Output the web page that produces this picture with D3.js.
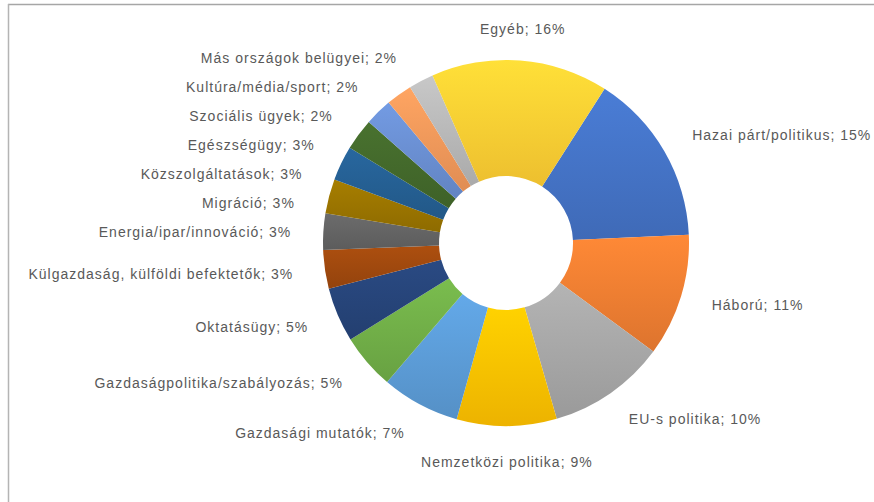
<!DOCTYPE html>
<html>
<head>
<meta charset="utf-8">
<style>
  body { margin: 0; background: #fff; }
  svg { display: block; }
</style>
</head>
<body>
<div id="chartContainer"></div>
<script src="https://cdnjs.cloudflare.com/ajax/libs/d3/7.8.5/d3.min.js"></script>
<script>
// topics, clockwise from the blue slice
var topics = ["Hazai párt/politikus", "Háború", "EU-s politika", "Nemzetközi politika",
  "Gazdasági mutatók", "Gazdaságpolitika/szabályozás", "Oktatásügy",
  "Külgazdaság, külföldi befektetők", "Energia/ipar/innováció", "Migráció",
  "Közszolgáltatások", "Egészségügy", "Szociális ügyek", "Kultúra/média/sport",
  "Más országok belügyei", "Egyéb"];
// shares in percent
var shares = [15.2, 10.8, 10.4, 8.8, 6.9, 4.9, 4.8, 3.4, 3.2, 3.05, 3.05, 2.8, 2.4, 2.3, 2.2, 15.6];
// the percent shown in the labels
var shownPct = [15, 11, 10, 9, 7, 5, 5, 3, 3, 3, 3, 3, 2, 2, 2, 16];
var colors = ["#4472C4", "#ED7D31", "#A5A5A5", "#FFC000", "#5B9BD5", "#70AD47",
  "#264478", "#9E480E", "#636363", "#997300", "#255E91", "#43682B",
  "#698ED0", "#F1975A", "#B7B7B7", "#FFCD33"];

var W = 874, H = 502;
var cx = 506, cy = 243, outerR = 183, innerR = 67, labelR = 215;
var startDeg = 32.6;

var data = topics.map(function (t, i) {
  return { name: t, value: shares[i], pct: shownPct[i], color: colors[i], i: i };
});

var svg = d3.select("#chartContainer").append("svg")
  .attr("width", W).attr("height", H);

// frame lines (top and left, as in the cropped picture)
svg.append("line").attr("x1", 8).attr("y1", 4.5).attr("x2", W).attr("y2", 4.5)
  .attr("stroke", "#a6a6a6").attr("stroke-width", 1.5);
svg.append("line").attr("x1", 8.5).attr("y1", 4).attr("x2", 8.5).attr("y2", H)
  .attr("stroke", "#b4b4b4").attr("stroke-width", 1.5);

var defs = svg.append("defs");
data.forEach(function (d) {
  var g = defs.append("linearGradient").attr("id", "grad" + d.i)
    .attr("x1", 0).attr("y1", 0).attr("x2", 0).attr("y2", 1);
  g.append("stop").attr("offset", "0%").attr("stop-color", d3.color(d.color).brighter(0.25));
  g.append("stop").attr("offset", "100%").attr("stop-color", d3.color(d.color).darker(0.2));
});

var a0 = startDeg * Math.PI / 180;
var pie = d3.pie().sort(null).value(function (d) { return d.value; })
  .startAngle(a0).endAngle(a0 + 2 * Math.PI);
var arcs = pie(data);

var arc = d3.arc().innerRadius(innerR).outerRadius(outerR);

var chart = svg.append("g").attr("transform", "translate(" + cx + "," + cy + ")");
chart.selectAll("path.slice")
  .data(arcs)
  .enter()
  .append("path")
    .attr("class", "slice")
    .attr("d", arc)
    .attr("fill", function (d) { return "url(#grad" + d.data.i + ")"; });

// label placement: on a circle outside the ring, pushed down when they crowd
var labels = arcs.map(function (a) {
  var m = (a.startAngle + a.endAngle) / 2;
  var s = Math.sin(m), c = Math.cos(m);
  var anchor = s > 0.3 ? "start" : (s < -0.3 ? "end" : "middle");
  return { d: a.data, s: s, x: labelR * s, y: -labelR * c, anchor: anchor };
});

var leftSide = labels.filter(function (l) { return l.s < 0.3; })
  .sort(function (p, q) { return p.y - q.y; });
var gap = 29;
for (var k = 1; k < leftSide.length; k++) {
  var l = leftSide[k];
  var minY = leftSide[k - 1].y + gap;
  if (l.y < minY) {
    l.y = minY;
    if (l.anchor === "end") {
      l.x = -Math.sqrt(Math.max(0, labelR * labelR - l.y * l.y));
    }
  }
}

chart.selectAll("text.lbl")
  .data(labels)
  .enter()
  .append("text")
    .attr("class", "lbl")
    .attr("x", function (l) { return l.x; })
    .attr("y", function (l) { return l.y; })
    .attr("dy", "0.35em")
    .attr("text-anchor", function (l) { return l.anchor; })
    .style("font-family", "'Liberation Sans', Arial, sans-serif")
    .style("font-size", "14px")
    .style("letter-spacing", "1px")
    .style("fill", "#595959")
    .text(function (l) { return l.d.name + "; " + l.d.pct + "%"; });
</script>
</body>
</html>
